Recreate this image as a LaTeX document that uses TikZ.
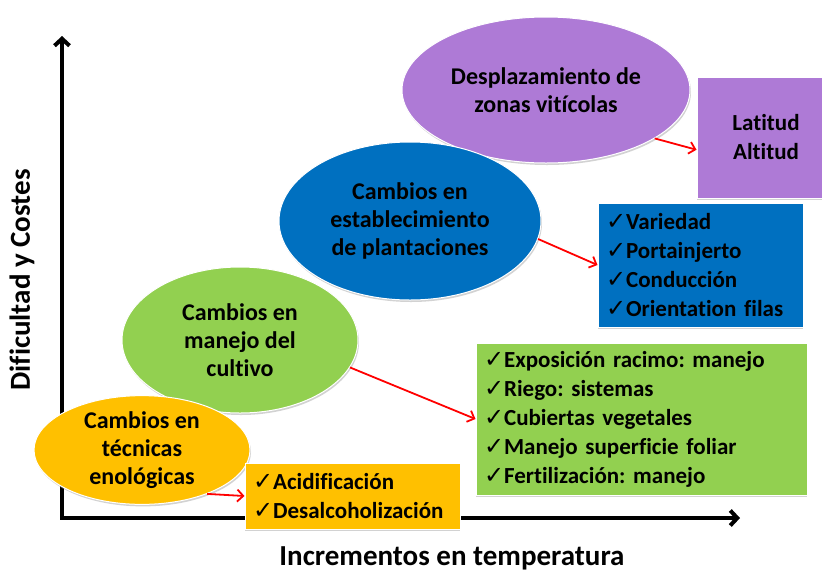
\documentclass[tikz,border=0pt]{standalone}
\usepackage{fontspec}
\setmainfont{Carlito}[Ligatures=NoCommon]
\newfontfamily\symfont{DejaVu Sans}
\usepackage{tikz}
\usetikzlibrary{shapes.geometric, arrows.meta, shadows}
\definecolor{enoorange}{HTML}{FFC000}
\definecolor{cultgreen}{HTML}{92D050}
\definecolor{planblue}{HTML}{0070C0}
\definecolor{zonapurple}{HTML}{AE7AD6}
\newcommand{\chk}{{\symfont\mdseries\fontsize{24}{24}\selectfont ✓}}
\frenchspacing
\tikzset{
  ell/.style = {ellipse, draw=white, line width=1pt, inner sep=0pt, align=center,
                font=\fontsize{24}{28}\selectfont\bfseries,
                drop shadow={shadow xshift=1pt, shadow yshift=-2pt, fill=black!35}},
  listbox/.style = {rectangle, draw=white, line width=1pt, inner xsep=8pt, inner ysep=0pt, align=left,
                font=\fontsize{23}{29}\selectfont\bfseries,
                drop shadow={shadow xshift=0pt, shadow yshift=-2pt, fill=black!35}},
  redarrow/.style = {draw=red, line width=1.8pt, -{Straight Barb[length=6pt, width=12pt]}},
  axis/.style = {line width=4pt, line join=miter,
                {Straight Barb[length=7pt, width=15pt]}-{Straight Barb[length=7pt, width=15pt]}},
  axislabel/.style = {font=\fontsize{29}{32}\selectfont\bfseries},
}
\begin{document}
\begin{tikzpicture}[x=1pt, y=-1pt]
            \clip (0,0) rectangle (822,574);
            \fill[white] (0,0) rectangle (822,574);

            \coordinate (ytip) at (62,36);
            \coordinate (orig) at (62,518);
            \coordinate (xtip) at (740,518);
            \draw[axis] (ytip) -- (orig) -- (xtip);
            \node (ylab) at (22,280) [rotate=90, axislabel] {Dificultad y Costes};
            \node (xlab) at (452,558) [axislabel] {Incrementos en temperatura};

            \node (zonas) at (546,90) [ell, fill=zonapurple, minimum width=288pt, minimum height=146pt] {Desplazamiento de\\zonas vitícolas};
            \node (plan) at (410,221) [ell, fill=planblue, minimum width=262pt, minimum height=158pt] {Cambios en\\establecimiento\\de plantaciones};
            \node (cult) at (240,340) [ell, fill=cultgreen, minimum width=236pt, minimum height=146pt] {Cambios en\\manejo del\\cultivo};
            \node (eno) at (142,450) [ell, fill=enoorange, minimum width=216pt, minimum height=94pt] {Cambios en\\técnicas\\enológicas};

            \node (lat) at (766,137.5) [listbox, fill=zonapurple, minimum width=138pt, minimum height=121pt, align=center] {Latitud\\Altitud};
            \node (planlist) at (700.5,265) [listbox, fill=planblue, minimum width=205pt, minimum height=124pt, text width=189pt] {\chk Variedad\\\chk Portainjerto\\\chk Conducción\\\chk Orientation filas};
            \node (cultlist) at (641.5,419) [listbox, fill=cultgreen, minimum width=331pt, minimum height=152pt, text width=315pt] {\chk Exposición racimo: manejo\\\chk Riego: sistemas\\\chk Cubiertas vegetales\\\chk Manejo superficie foliar\\\chk Fertilización: manejo};
            \node (enolist) at (352.5,496) [listbox, fill=enoorange, minimum width=215pt, minimum height=66pt, text width=199pt] {\chk Acidificación\\\chk Desalcoholización};

            \draw[redarrow] (zonas.-24) -- (lat.190);
            \draw[redarrow] (plan.-8) -- (planlist.west);
            \draw[redarrow] (cult.-14) -- (cultlist.west);
            \draw[redarrow] (eno.-34) -- (enolist.west);
\end{tikzpicture}
\end{document}
